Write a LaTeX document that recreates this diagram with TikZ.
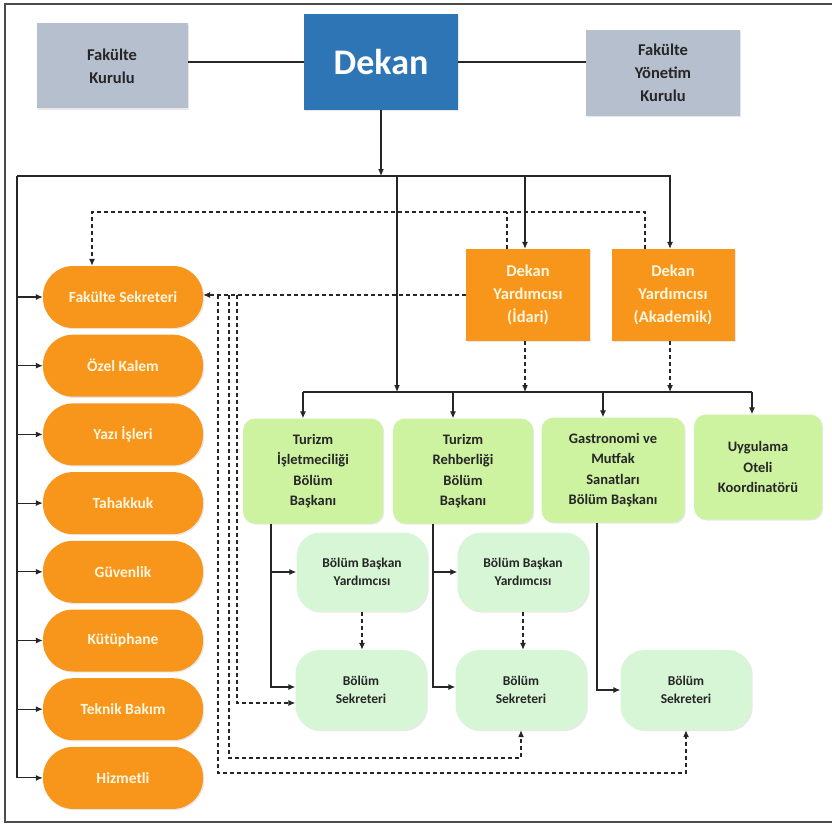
\documentclass[tikz,border=0pt]{standalone}
\usepackage{fontspec}
\setmainfont{Carlito}
\usetikzlibrary{arrows.meta,positioning,shadows,calc}
\definecolor{dekanblue}{RGB}{46,117,182}
\definecolor{boardgray}{RGB}{181,191,206}
\definecolor{unitorange}{RGB}{248,150,28}
\definecolor{unittext}{RGB}{255,246,222}
\definecolor{deptgreen}{RGB}{205,242,160}
\definecolor{subgreen}{RGB}{215,246,214}
\definecolor{linegray}{RGB}{38,38,38}

\tikzset{
  glow/.style={drop shadow={shadow xshift=1.2pt,shadow yshift=-1.2pt,opacity=.18}},
  board/.style={glow,fill=boardgray,text=black!85,align=center,inner sep=0pt,
    minimum width=151pt,minimum height=85pt,font=\fontsize{16.5}{23}\selectfont\bfseries},
  dean/.style={glow,fill=dekanblue,text=white,inner sep=0pt,
    minimum width=154pt,minimum height=96pt,font=\fontsize{36}{40}\selectfont\bfseries},
  unit/.style={glow,fill=unitorange,text=unittext,inner sep=0pt,rounded corners=30pt,
    minimum width=160pt,minimum height=62pt,font=\fontsize{15.5}{18}\selectfont\bfseries},
  vice/.style={glow,fill=unitorange,text=unittext,align=center,inner sep=0pt,
    minimum width=124pt,minimum height=92pt,font=\fontsize{16.5}{23}\selectfont\bfseries},
  dept/.style={glow,fill=deptgreen,text=black!85,align=center,inner sep=0pt,rounded corners=12pt,
    minimum width=140pt,minimum height=105pt,font=\fontsize{14.5}{20.5}\selectfont\bfseries},
  sub/.style={glow,fill=subgreen,text=black!85,align=center,inner sep=0pt,rounded corners=24pt,
    minimum width=131pt,minimum height=79pt,font=\fontsize{13.5}{18}\selectfont\bfseries}
}

\begin{document}
\begin{tikzpicture}[x=1pt,y=-1pt,>={Latex[length=7pt,width=6pt]},
    conn/.style={draw=linegray,line width=1.1pt},
    dline/.style={conn,dash pattern=on 4pt off 3pt}]
  \useasboundingbox (0,0) rectangle (832,824);
  \draw[line width=1.3pt,black!70] (832,4) -- (5,4) -- (5,822) -- (832,822);

  % top level
  \node[board] (fk) at (112,66) {Fakülte\\Kurulu};
  \node[dean] (dekan) at (381,62) {Dekan};
  \node[board,minimum width=154pt,minimum height=86pt] (fyk) at (663,73) {Fakülte\\Yönetim\\Kurulu};
  \draw[conn] (dekan.west) -- (dekan.west -| fk.east);
  \draw[conn] (dekan.east) -- (dekan.east -| fyk.west);

  % vice deans
  \node[vice] (idari) at (528,295) {Dekan\\Yardımcısı\\(İdari)};
  \node[vice,minimum width=123pt] (akad) at (673,295) {Dekan\\Yardımcısı\\(Akademik)};

  % left column
  \foreach \n/\t [count=\i from 0] in {fs/Fakülte Sekreteri,ok/Özel Kalem,yi/Yazı İşleri,
      ta/Tahakkuk,gu/Güvenlik,ku/Kütüphane,tb/Teknik Bakım,hiz/Hizmetli}
    \node[unit] (\n) at (123,{297+68.7*\i}) {\t};

  % departments
  \node[dept] (tib) at (313,471) {Turizm\\İşletmeciliği\\Bölüm\\Başkanı};
  \node[dept] (trb) at (463,471) {Turizm\\Rehberliği\\Bölüm\\Başkanı};
  \node[dept,minimum width=143pt] (gas) at (613,470) {Gastronomi ve\\Mutfak\\Sanatları\\Bölüm Başkanı};
  \node[dept,minimum width=128pt] (uyg) at (758,467) {Uygulama\\Oteli\\Koordinatörü};

  \node[sub] (bby1) at (362,572) {Bölüm Başkan\\Yardımcısı};
  \node[sub] (bby2) at (523,572) {Bölüm Başkan\\Yardımcısı};
  \node[sub,minimum height=80pt] (bs1) at (361,690) {Bölüm\\Sekreteri};
  \node[sub,minimum height=80pt] (bs2) at (521,690) {Bölüm\\Sekreteri};
  \node[sub,minimum height=80pt] (bs3) at (686,690) {Bölüm\\Sekreteri};

  % buses
  \coordinate (bus) at (17,176);
  \coordinate (mid) at (397,176);
  \coordinate (bus2) at (303,392);
  \coordinate (dtop) at (92,212);
  \coordinate (lowA) at (229,758);
  \coordinate (lowB) at (218,773);

  \draw[conn,->] (dekan.south) -- (dekan.south |- bus);
  \draw[conn,->] (bus) -| ([xshift=-3pt]akad.north);
  \draw[conn,->] ([xshift=-3pt]idari.north |- bus) -- ([xshift=-3pt]idari.north);
  \draw[conn,->] (mid) -- (mid |- bus2);
  \draw[conn] (bus) -- (bus |- hiz.west);
  \foreach \n in {fs,ok,yi,ta,gu,ku,tb,hiz}
    \draw[conn,->] (bus |- \n.west) -- (\n.west);

  \draw[conn] (bus2) -- ([xshift=-6pt]uyg.north |- bus2);
  \foreach \n in {tib,trb,gas}
    \draw[conn,->] ([xshift=-10pt]\n.north |- bus2) -- ([xshift=-10pt]\n.north);
  \draw[conn,->] ([xshift=-6pt]uyg.north |- bus2) -- ([xshift=-6pt]uyg.north);

  % dashed links of the vice deans
  \draw[dline,->] ([xshift=-3pt]idari.south) -- ([xshift=-3pt]idari.south |- bus2);
  \draw[dline,->] ([xshift=-3pt]akad.south) -- ([xshift=-3pt]akad.south |- bus2);
  \draw[dline,->] ([xshift=-28pt]akad.north) |- (dtop) -- (dtop |- fs.north);
  \draw[dline] ([xshift=-21pt]idari.north) -- ([xshift=-21pt]idari.north |- dtop);
  \draw[dline,->] (idari.west) -- (idari.west -| fs.east);
  \draw[dline,->] (idari.west -| 237,0) |- ([yshift=-13pt]bs1.west);
  \draw[dline,->] (idari.west -| 229,0) -- (lowA) -| (bs2.south);
  \draw[dline,->] (idari.west -| 218,0) -- (lowB) -| (bs3.south);

  % department links
  \draw[conn,->] ([xshift=-42pt]tib.south) |- (bby1.west);
  \draw[conn,->] ([xshift=-42pt]tib.south) |- ([yshift=3pt]bs1.west);
  \draw[conn,->] ([xshift=-30pt]trb.south) |- (bby2.west);
  \draw[conn,->] ([xshift=-30pt]trb.south) |- ([yshift=3pt]bs2.west);
  \draw[conn,->] ([xshift=-16pt]gas.south) |- (bs3.west);
  \draw[dline,->] (bby1.south) -- (bby1.south |- bs1.north);
  \draw[dline,->] (bby2.south) -- (bby2.south |- bs2.north);
\end{tikzpicture}
\end{document}
